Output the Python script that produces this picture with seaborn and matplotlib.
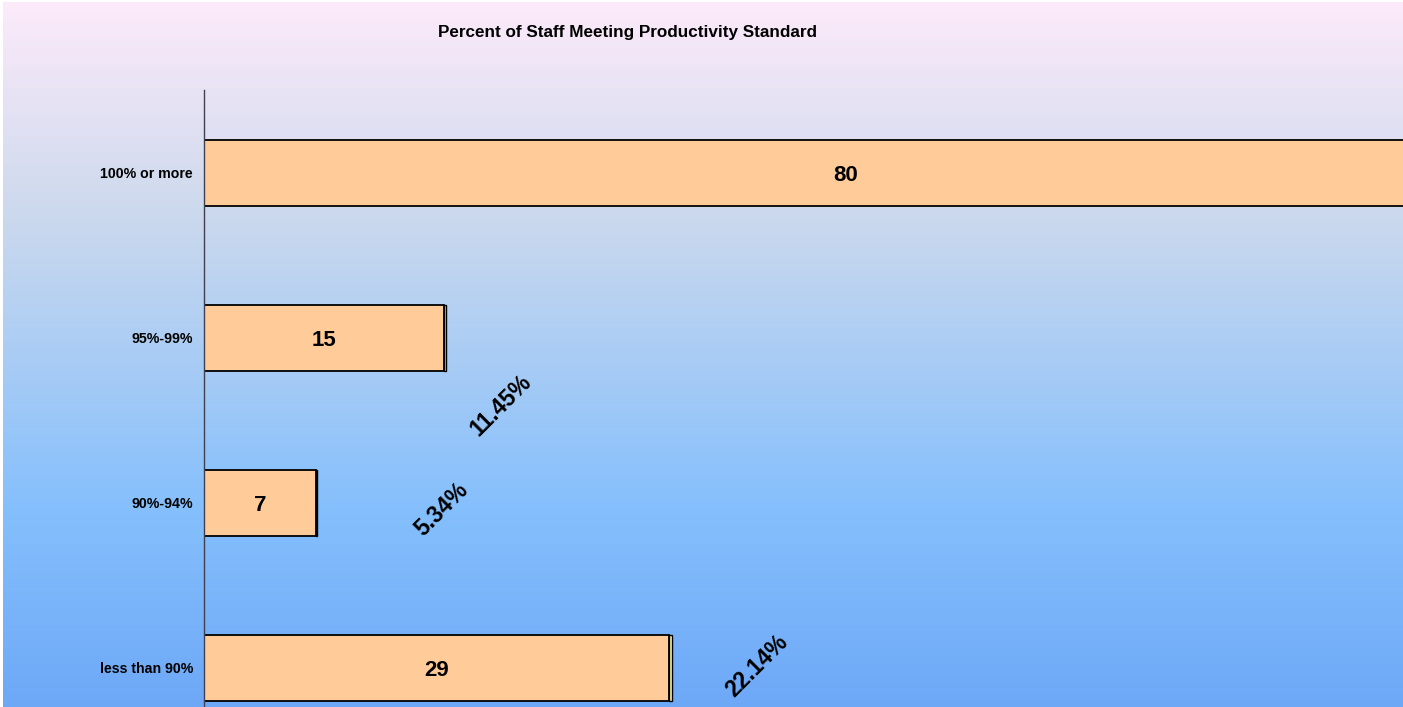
import numpy as np
import pandas as pd
import seaborn as sns
import matplotlib.pyplot as plt
from matplotlib.colors import LinearSegmentedColormap

# data
categories = ['100% or more', '95%-99%', '90%-94%', 'less than 90%']
counts = [80, 15, 7, 29]
pct_labels = ['61.07%', '11.45%', '5.34%', '22.14%']
pct_values = [0.6107, 0.1145, 0.0534, 0.2214]
# where the rotated percent labels sit, relative to the bar end / bar centre
pct_dx = [3.3, 3.5, 7.8, 5.5]
pct_dy = [0.41, 0.41, 0.04, -0.01]

df = pd.DataFrame({'range': categories, 'count': counts})

sns.set_theme(style='white')
plt.rcParams['font.family'] = ['Liberation Sans', 'DejaVu Sans']

fig = plt.figure(figsize=(14.03, 7.07), dpi=100)

# gradient background
bg = fig.add_axes([3 / 1403, 0, 1 - 3 / 1403, 705 / 707])
grad = LinearSegmentedColormap.from_list('bg', [
    (0.0, (0.99, 0.92, 0.98)),
    (0.3, (0.80, 0.85, 0.93)),
    (0.72, (0.52, 0.75, 0.99)),
    (1.0, (0.43, 0.66, 0.97)),
])
bg.imshow(np.linspace(0, 1, 256).reshape(-1, 1), aspect='auto', cmap=grad,
          extent=[0, 1, 1, 0])
bg.set_axis_off()

ax = fig.add_axes([204 / 1403, -0.0615, 1 - 204 / 1403, 0.934])
ax.patch.set_alpha(0)
sns.barplot(data=df, y='range', x='count', orient='h', color='#ffcc99',
            saturation=1, width=0.4, edgecolor='black', linewidth=1.3, ax=ax)
# second (percentage) series stacked on the end of each bar
ax.barh(range(len(categories)), pct_values, left=counts, height=0.4,
        color='#ffff99', edgecolor='black', linewidth=1.0)

xmax = 74.8
ax.set_xlim(0, xmax)
ax.set_ylim(3.5, -0.5)
for s in ['top', 'right', 'bottom']:
    ax.spines[s].set_visible(False)
ax.spines['left'].set_color('#404050')
ax.spines['left'].set_linewidth(1.0)
ax.set_xticks([])
ax.set_xlabel('')
ax.set_ylabel('')
ax.tick_params(axis='y', length=0, pad=8)
for lab in ax.get_yticklabels():
    lab.set_fontsize(10.2)
    lab.set_fontweight('bold')
    lab.set_color('black')

for i, v in enumerate(counts):
    ax.text(v / 2, i, str(v), ha='center', va='center_baseline', fontsize=16,
            fontweight='bold', color='black')
    # the label of the long bar falls outside the visible area
    if v + pct_dx[i] < xmax:
        ax.text(v + pct_dx[i], i + pct_dy[i], pct_labels[i], ha='center',
                va='center', rotation=45, fontsize=16.5, fontweight='bold',
                color='black', rotation_mode='anchor')

fig.text(628 / 1403, 1 - 33 / 707, 'Percent of Staff Meeting Productivity Standard',
         ha='center', va='center', fontsize=12.3, fontweight='bold', color='black')

fig.savefig('out.png', dpi=100)
